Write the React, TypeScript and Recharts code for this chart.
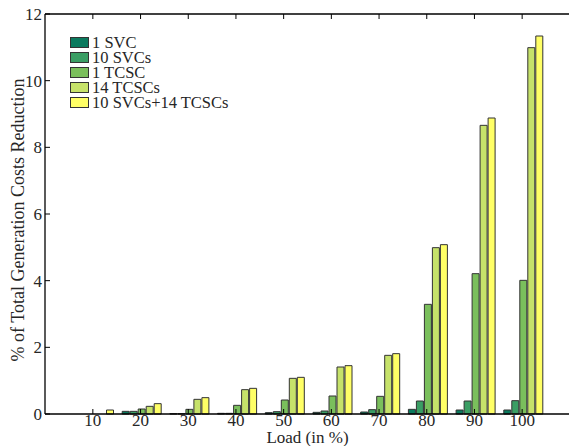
import { BarChart, Bar, XAxis, YAxis } from 'recharts';

const loads = ['10', '20', '30', '40', '50', '60', '70', '80', '90', '100'];
const svc1 = [0, 0.08, 0.01, 0.02, 0.04, 0.05, 0.06, 0.14, 0.12, 0.12];
const svc10 = [0, 0.08, 0.01, 0.02, 0.07, 0.09, 0.13, 0.39, 0.39, 0.4];
const tcsc1 = [0, 0.15, 0.14, 0.26, 0.42, 0.54, 0.53, 3.29, 4.21, 4.01];
const tcsc14 = [0, 0.23, 0.44, 0.73, 1.07, 1.41, 1.76, 4.99, 8.66, 10.99];
const combo = [0.12, 0.31, 0.49, 0.77, 1.1, 1.45, 1.81, 5.08, 8.88, 11.34];
const yTicks = [0, 2, 4, 6, 8, 10, 12];

const SERIES = [
    { key: 'svc1', name: '1 SVC', color: '#0b7a5e' },
    { key: 'svc10', name: '10 SVCs', color: '#3a9e64' },
    { key: 'tcsc1', name: '1 TCSC', color: '#7abf5c' },
    { key: 'tcsc14', name: '14 TCSCs', color: '#c6e26a' },
    { key: 'combo', name: '10 SVCs+14 TCSCs', color: '#ffff66' },
];

const data = loads.map((load, i) => ({
    load,
    svc1: svc1[i],
    svc10: svc10[i],
    tcsc1: tcsc1[i],
    tcsc14: tcsc14[i],
    combo: combo[i],
}));

const FONT = '"Liberation Serif", "Times New Roman", serif';
const tickStyle = { fill: '#262626', fontSize: 17, fontFamily: FONT };

export default function App() {
    return (
        <div style={{ position: 'absolute', left: 0, top: 0, width: 569, height: 446, overflow: 'hidden', background: '#fff', fontFamily: FONT, color: '#262626' }}>
            <BarChart width={580} height={446} data={data} margin={{ top: 13, right: 9, left: 0, bottom: 0 }}
                barCategoryGap={5.5} barGap={1}>
                <XAxis dataKey="load" xAxisId="bottom" height={32} padding={{ left: 24, right: 24 }}
                    tickSize={-5} tickMargin={5} tick={tickStyle} interval={0}
                    axisLine={{ stroke: '#000', strokeWidth: 1.3 }} tickLine={{ stroke: '#000' }} />
                <XAxis dataKey="load" xAxisId="top" orientation="top" height={1} padding={{ left: 24, right: 24 }}
                    tickSize={-5} tickFormatter={() => ''} interval={0}
                    axisLine={{ stroke: '#000', strokeWidth: 1.3 }} tickLine={{ stroke: '#000' }} />
                <YAxis yAxisId="left" width={45} domain={[0, 12]} ticks={yTicks} type="number"
                    tickSize={-5} tickMargin={8} tick={tickStyle}
                    axisLine={{ stroke: '#000', strokeWidth: 1.3 }} tickLine={{ stroke: '#000' }} />
                <YAxis yAxisId="right" orientation="right" width={1} domain={[0, 12]} ticks={yTicks} type="number"
                    tickSize={-5} tickFormatter={() => ''}
                    axisLine={{ stroke: '#000' }} tickLine={{ stroke: '#888' }} />
                {SERIES.map((s) => (
                    <Bar key={s.key} dataKey={s.key} name={s.name} xAxisId="bottom" yAxisId="left"
                        fill={s.color} stroke="#333" strokeWidth={1} isAnimationActive={false} />
                ))}
            </BarChart>

            {/* legend */}
            <div style={{ position: 'absolute', left: 70, top: 34.5 }}>
                {SERIES.map((s) => (
                    <div key={s.key} style={{ display: 'flex', alignItems: 'center', height: 15 }}>
                        <div style={{ width: 17, height: 9, background: s.color, border: '1px solid #333' }} />
                        <span style={{ marginLeft: 3, fontSize: 16.5, lineHeight: '15px', whiteSpace: 'nowrap' }}>{s.name}</span>
                    </div>
                ))}
            </div>

            {/* axis titles */}
            <div style={{ position: 'absolute', left: 18, top: 220, transform: 'translate(-50%, -50%) rotate(-90deg)', fontSize: 18, lineHeight: 1, whiteSpace: 'nowrap' }}>
                % of Total Generation Costs Reduction
            </div>
            <div style={{ position: 'absolute', left: 307.5, top: 437, transform: 'translate(-50%, -50%)', fontSize: 17, lineHeight: 1, whiteSpace: 'nowrap' }}>
                Load (in %)
            </div>
        </div>
    );
}
